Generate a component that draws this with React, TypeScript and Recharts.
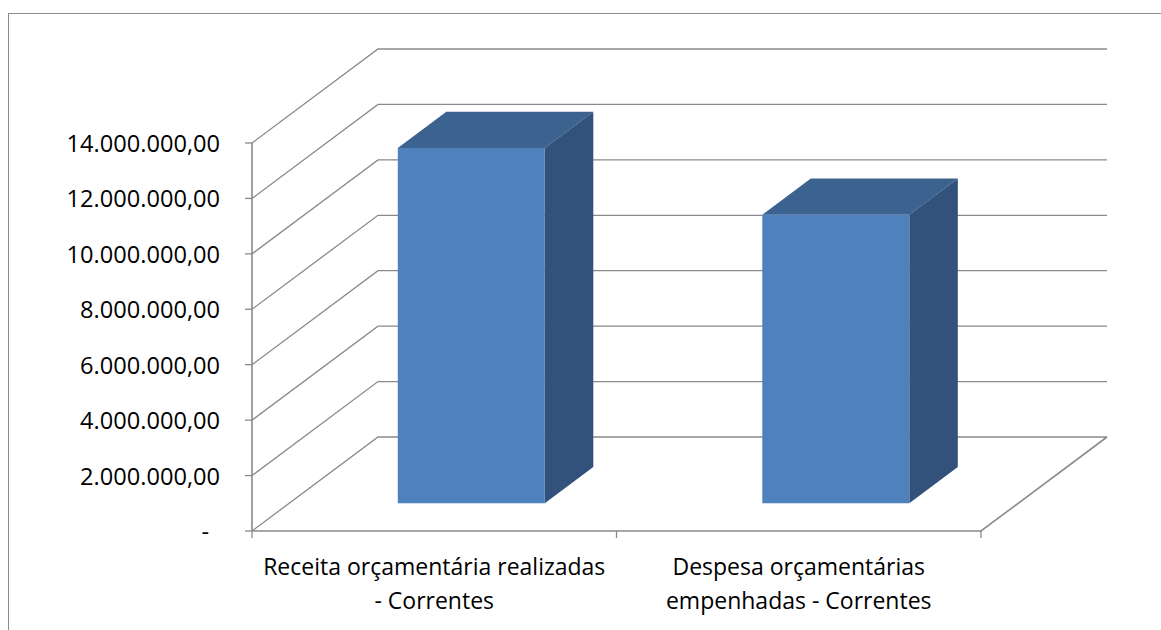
import { BarChart, Bar, XAxis, YAxis, CartesianGrid } from "recharts";

const CATEGORY_LINES: string[][] = [
  ["Receita orçamentária realizadas", "- Correntes"],
  ["Despesa orçamentárias", "empenhadas - Correntes"],
];
const VALUES = [12820000, 10410000];
const Y_TICKS = [0, 2000000, 4000000, 6000000, 8000000, 10000000, 12000000, 14000000];

const data = CATEGORY_LINES.map((lines, i) => ({ name: lines.join(" "), value: VALUES[i] }));

const W = 1161;
const H = 630;
const Y_AXIS_W = 252;
const X_AXIS_H = 99;
const PLOT_BOTTOM = H - X_AXIS_H;

// oblique 3-D projection: how far the back wall sits from the front plane
const DX = 126;
const DY = -94;
// bars start this far into the depth and take this share of it
const BAR_FRONT = 0.295;
const BAR_DEPTH = 0.385;

const GRID = "#8a8a8a";
const FACE = "#4F81BD";
const TOP = "#3C6290";
const SIDE = "#32527C";
const FONT = "'Open Sans', sans-serif";

function formatValue(v: number) {
  if (v === 0) return "-";
  const [int, dec] = v.toFixed(2).split(".");
  return int.replace(/\B(?=(\d{3})+(?!\d))/g, ".") + "," + dec;
}

const renderWall = (p: any) => {
  const { x1, x2, y1 } = p;
  const isFloor = Math.abs(y1 - PLOT_BOTTOM) < 1;
  return (
    <g key={p.key ?? `wall-${y1}`}>
      <polyline
        points={`${x1},${y1} ${x1 + DX},${y1 + DY} ${x2 + DX},${y1 + DY}`}
        fill="none"
        stroke={GRID}
        strokeWidth={1.3}
      />
      {isFloor && (
        <polyline
          points={`${x1},${y1} ${x2},${y1} ${x2 + DX},${y1 + DY}`}
          fill="none"
          stroke={GRID}
          strokeWidth={1.6}
        />
      )}
    </g>
  );
};

const Box = (p: any) => {
  const { x, y, width, height } = p;
  const fx = x + DX * BAR_FRONT;
  const fy = y + DY * BAR_FRONT;
  const dx = DX * BAR_DEPTH;
  const dy = DY * BAR_DEPTH;
  return (
    <g>
      <polygon
        points={`${fx},${fy} ${fx + dx},${fy + dy} ${fx + width + dx},${fy + dy} ${fx + width},${fy}`}
        fill={TOP}
      />
      <polygon
        points={`${fx + width},${fy} ${fx + width + dx},${fy + dy} ${fx + width + dx},${fy + height + dy} ${fx + width},${fy + height}`}
        fill={SIDE}
      />
      <rect x={fx} y={fy} width={width} height={height} fill={FACE} />
    </g>
  );
};

const YTick = (p: any) => {
  const { x, y, payload } = p;
  const zero = payload.value === 0;
  return (
    <text
      x={zero ? x - 11 : x}
      y={y}
      textAnchor="end"
      dominantBaseline="central"
      fontFamily={FONT}
      fontSize={23.6}
      fill="#000"
    >
      {formatValue(payload.value)}
    </text>
  );
};

const XTick = (p: any) => {
  const { x, y, index, width, visibleTicksCount } = p;
  const half = width && visibleTicksCount ? width / visibleTicksCount / 2 : 182;
  const lines = CATEGORY_LINES[index] ?? [];
  const last = index === CATEGORY_LINES.length - 1;
  return (
    <g>
      <line x1={x - half} y1={y} x2={x - half} y2={y + 7} stroke={GRID} strokeWidth={1.3} />
      {last && <line x1={x + half} y1={y} x2={x + half} y2={y + 7} stroke={GRID} strokeWidth={1.3} />}
      {lines.map((t, i) => (
        <text
          key={i}
          x={x}
          y={y + 35 + i * 34}
          textAnchor="middle"
          dominantBaseline="central"
          fontFamily={FONT}
          fontSize={23}
          fill="#000"
        >
          {t}
        </text>
      ))}
    </g>
  );
};

export default function App() {
  return (
    <div
      style={{
        position: "fixed",
        left: 0,
        top: 0,
        width: W,
        height: H,
        overflow: "hidden",
        background: "#fff",
      }}
    >
      <div
        style={{
          position: "absolute",
          left: 8,
          top: 13,
          width: 2000,
          height: 2000,
          border: "1px solid #8c8c8c",
        }}
      />
      <div style={{ position: "absolute", left: 0, top: 0 }}>
        <BarChart
          width={W}
          height={H}
          data={data}
          margin={{ top: 143, right: 180, bottom: 0, left: 0 }}
          barCategoryGap="29.8%"
        >
          <CartesianGrid vertical={false} horizontal={renderWall} />
          <XAxis
            dataKey="name"
            height={X_AXIS_H}
            axisLine={false}
            tickLine={false}
            tickSize={0}
            tickMargin={0}
            interval={0}
            tick={<XTick />}
          />
          <YAxis
            width={Y_AXIS_W}
            domain={[0, 14000000]}
            ticks={Y_TICKS}
            interval={0}
            tickSize={7}
            tickMargin={25}
            axisLine={{ stroke: GRID, strokeWidth: 1.6 }}
            tickLine={{ stroke: GRID, strokeWidth: 1.3 }}
            tick={<YTick />}
          />
          <Bar dataKey="value" shape={<Box />} isAnimationActive={false} />
        </BarChart>
      </div>
    </div>
  );
}
